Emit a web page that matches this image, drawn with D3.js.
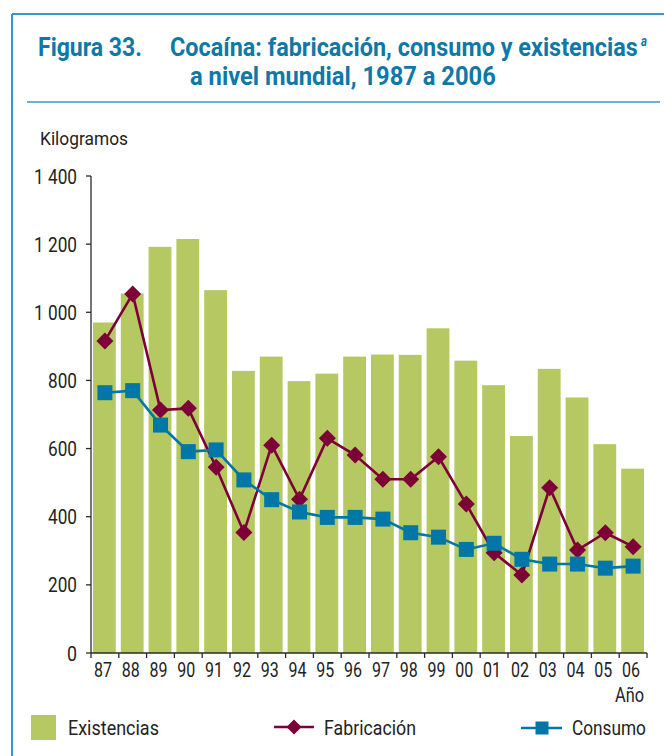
<!DOCTYPE html>
<html>
<head>
<meta charset="utf-8">
<script src="https://cdn.jsdelivr.net/npm/d3@7"></script>
<style>
  html, body { margin: 0; padding: 0; background: #fff; }
  svg { display: block; }
  text { font-family: Roboto, "Liberation Sans", Arial, sans-serif; }
</style>
</head>
<body>
<svg id="chart" width="664" height="756"></svg>
<script>
// Años (etiquetas del eje X)
const years = ["87","88","89","90","91","92","93","94","95","96","97","98","99","00","01","02","03","04","05","06"];
// Existencias (kg)
const existencias = [970,1055,1192,1215,1065,828,870,798,820,870,876,875,953,858,786,637,834,750,613,541];
// Fabricación (kg)
const fabricacion = [916,1054,713,718,545,354,610,451,630,581,510,510,576,437,294,229,485,302,353,312];
// Consumo (kg)
const consumo = [764,770,669,591,596,508,450,414,398,398,393,353,340,304,322,275,261,261,249,255];
// Marcas del eje Y
const yTicks = [0,200,400,600,800,1000,1200,1400];

const C_FRAME = "#3897c4", C_TITLE = "#0f78a6", C_BAR = "#b5c862",
      C_FAB = "#7c0037", C_CONS = "#0077a6", C_AXIS = "#2b2b2b", C_TEXT = "#222";

const svg = d3.select("#chart");

// Texto estrechado horizontalmente hasta la anchura indicada
function ctext(x, y, str, o) {
  const g = svg.append("g");
  const t = g.append("text")
    .attr("x", 0).attr("y", 0)
    .attr("font-size", o.size)
    .attr("font-weight", o.weight || "normal")
    .attr("font-style", o.style || "normal")
    .attr("fill", o.fill || C_TEXT)
    .attr("text-anchor", o.anchor || "start")
    .text(str);
  const L = t.node().getComputedTextLength();
  const sx = L > 0 ? o.width / L : 1;
  g.attr("transform", `translate(${x},${y}) scale(${sx},1)`);
  return t;
}

// Marco
svg.append("line").attr("x1", 12).attr("x2", 12).attr("y1", 14).attr("y2", 756)
  .attr("stroke", C_FRAME).attr("stroke-width", 2);
svg.append("line").attr("x1", 12).attr("x2", 664).attr("y1", 14).attr("y2", 14)
  .attr("stroke", C_FRAME).attr("stroke-width", 2);
svg.append("line").attr("x1", 27).attr("x2", 660).attr("y1", 102).attr("y2", 102)
  .attr("stroke", C_FRAME).attr("stroke-width", 1.5);

// Título
ctext(38, 56, "Figura 33.", {size: 25, weight: "bold", fill: C_TITLE, width: 104});
ctext(170, 56, "Cocaína: fabricación, consumo y existencias", {size: 25, weight: "bold", fill: C_TITLE, width: 468});
ctext(641, 46, "a", {size: 14, weight: "bold", style: "italic", fill: C_TITLE, width: 6});
ctext(190, 85, "a nivel mundial, 1987 a 2006", {size: 25, weight: "bold", fill: C_TITLE, width: 306});

// Escalas
const x = d3.scaleBand().domain(years).range([91, 647]).padding(0);
const y = d3.scaleLinear().domain([0, 1400]).range([653, 176]);
const step = x.step();
const cx = d => x(d) + step / 2;

// Barras: existencias
svg.append("g").selectAll("rect").data(years).join("rect")
  .attr("x", d => x(d) + 2)
  .attr("width", step - 5)
  .attr("y", (d, i) => y(existencias[i]))
  .attr("height", (d, i) => y(0) - y(existencias[i]))
  .attr("fill", C_BAR);

// Eje Y
svg.append("line").attr("x1", 91).attr("x2", 91).attr("y1", y(1400)).attr("y2", y(0))
  .attr("stroke", C_AXIS).attr("stroke-width", 1.3);
yTicks.forEach(v => {
  svg.append("line").attr("x1", 86).attr("x2", 91).attr("y1", y(v)).attr("y2", y(v))
    .attr("stroke", C_AXIS).attr("stroke-width", 1.3);
  const lab = v >= 1000 ? (Math.floor(v / 1000) + " " + String(v % 1000).padStart(3, "0")) : String(v);
  const w = v >= 1000 ? 43 : (v === 0 ? 10 : 29);
  ctext(77, y(v) + 7.5, lab, {size: 21, anchor: "end", width: w});
});
ctext(40, 145, "Kilogramos", {size: 19, width: 88});

// Eje X
svg.append("line").attr("x1", 91).attr("x2", 647).attr("y1", y(0)).attr("y2", y(0))
  .attr("stroke", C_AXIS).attr("stroke-width", 1.3);
d3.range(years.length + 1).forEach(i => {
  const xp = 91 + i * step;
  svg.append("line").attr("x1", xp).attr("x2", xp).attr("y1", y(0)).attr("y2", y(0) + 5)
    .attr("stroke", C_AXIS).attr("stroke-width", 1.3);
});
years.forEach(d => ctext(cx(d) - 2, 677, d, {size: 20, anchor: "middle", width: 18}));
ctext(644, 702, "Año", {size: 20, anchor: "end", width: 29});

// Líneas
const line = d3.line().x((v, i) => cx(years[i])).y(v => y(v));
const diamond = r => `M0,${-r}L${r},0L0,${r}L${-r},0Z`;

svg.append("path").datum(fabricacion).attr("d", line)
  .attr("fill", "none").attr("stroke", C_FAB).attr("stroke-width", 2.6);
svg.append("g").selectAll("path").data(fabricacion).join("path")
  .attr("transform", (v, i) => `translate(${cx(years[i])},${y(v)})`)
  .attr("d", diamond(8.5)).attr("fill", C_FAB);

svg.append("path").datum(consumo).attr("d", line)
  .attr("fill", "none").attr("stroke", C_CONS).attr("stroke-width", 2.6);
svg.append("g").selectAll("rect").data(consumo).join("rect")
  .attr("x", (v, i) => cx(years[i]) - 7.5).attr("y", v => y(v) - 7.5)
  .attr("width", 15).attr("height", 15).attr("fill", C_CONS);

// Leyenda
svg.append("rect").attr("x", 31).attr("y", 715).attr("width", 25).attr("height", 25).attr("fill", C_BAR);
ctext(68, 735, "Existencias", {size: 20, width: 91});

svg.append("line").attr("x1", 274).attr("x2", 314).attr("y1", 727).attr("y2", 727)
  .attr("stroke", C_FAB).attr("stroke-width", 2.6);
svg.append("path").attr("transform", "translate(294,727)").attr("d", diamond(7.5)).attr("fill", C_FAB);
ctext(324, 735, "Fabricación", {size: 20, width: 92});

svg.append("line").attr("x1", 521).attr("x2", 562).attr("y1", 728).attr("y2", 728)
  .attr("stroke", C_CONS).attr("stroke-width", 2.6);
svg.append("rect").attr("x", 535.5).attr("y", 721.5).attr("width", 13).attr("height", 13).attr("fill", C_CONS);
ctext(572, 735, "Consumo", {size: 20, width: 74});
</script>
</body>
</html>
